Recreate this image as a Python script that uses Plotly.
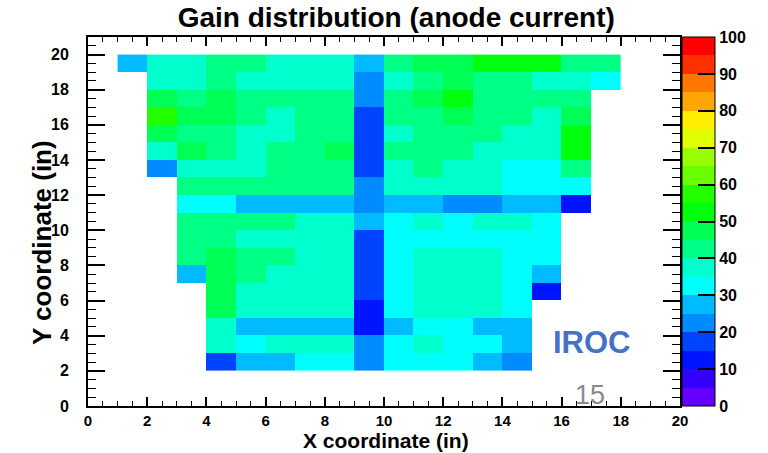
import plotly.graph_objects as go

# Cell centres (inches)
x_centers = [c + 0.5 for c in range(1, 18)]          # columns 1..17
y_centers = [r + 0.5 for r in range(2, 20)]          # rows 2..19

N = None
# Gain values, rows listed from y=19 (top) down to y=2 (bottom), columns x=1..17
gain_rows_top_down = [
    [27, 37, 37, 43, 43, 37, 37, 37, 27, 43, 47, 47, 52, 52, 52, 43, 43],   # y=19
    [N, 37, 37, 43, 37, 37, 37, 37, 22, 37, 43, 47, 43, 43, 37, 37, 32],    # y=18
    [N, 47, 43, 47, 43, 43, 43, 43, 22, 43, 47, 52, 43, 43, 43, 43, N],     # y=17
    [N, 57, 47, 47, 43, 37, 43, 43, 17, 43, 43, 47, 43, 43, 37, 47, N],     # y=16
    [N, 47, 43, 43, 37, 37, 43, 43, 17, 37, 43, 43, 43, 37, 37, 52, N],     # y=15
    [N, 37, 47, 43, 37, 43, 43, 47, 17, 43, 43, 43, 37, 37, 37, 52, N],     # y=14
    [N, 22, 37, 37, 37, 43, 43, 43, 17, 37, 43, 37, 37, 32, 32, 43, N],     # y=13
    [N, N, 43, 43, 43, 43, 43, 43, 22, 37, 37, 37, 37, 32, 32, 32, N],      # y=12
    [N, N, 32, 32, 27, 27, 27, 27, 22, 27, 27, 22, 22, 27, 27, 12, N],      # y=11
    [N, N, 43, 43, 43, 43, 37, 37, 27, 32, 37, 32, 37, 37, 32, N, N],       # y=10
    [N, N, 43, 43, 37, 37, 37, 37, 17, 32, 32, 32, 32, 32, 32, N, N],       # y=9
    [N, N, 43, 47, 43, 43, 37, 37, 17, 32, 37, 37, 37, 32, 32, N, N],       # y=8
    [N, N, 27, 47, 43, 37, 37, 37, 17, 32, 37, 37, 37, 32, 27, N, N],       # y=7
    [N, N, N, 47, 37, 37, 37, 37, 17, 32, 37, 37, 37, 32, 12, N, N],        # y=6
    [N, N, N, 47, 37, 37, 37, 37, 12, 32, 37, 37, 37, 32, N, N, N],         # y=5
    [N, N, N, 37, 27, 27, 27, 27, 12, 27, 32, 32, 27, 27, N, N, N],         # y=4
    [N, N, N, 37, 32, 37, 37, 37, 22, 32, 37, 32, 32, 27, N, N, N],         # y=3
    [N, N, N, 17, 27, 27, 32, 32, 22, 32, 32, 32, 27, 22, N, N, N],         # y=2
]
z_values = list(reversed(gain_rows_top_down))  # bottom-up to match y_centers

x_ticks = list(range(0, 21, 2))
y_ticks = list(range(0, 21, 2))
cbar_ticks = list(range(0, 101, 10))

# ROOT "pretty palette" (palette 1) sampled for 20 contour levels
n_levels = 20
n_colors = 50
colorscale = []
for k in range(n_levels):
    idx = int((k + 0.99) * n_colors / n_levels)
    hue = 280 - (idx + 1) * (280 / n_colors)
    col = f"hsl({hue:.1f},100%,50%)"
    colorscale.append([k / n_levels, col])
    colorscale.append([(k + 1) / n_levels, col])

FONT = "Liberation Sans"

fig = go.Figure()
fig.add_trace(go.Heatmap(
    x=x_centers, y=y_centers, z=z_values,
    zmin=0, zmax=100, colorscale=colorscale,
    hoverongaps=False,
    colorbar=dict(
        x=1.004, xanchor="left", xpad=0, ypad=0,
        y=0.5, yanchor="middle", len=1, lenmode="fraction",
        thickness=33, outlinecolor="black", outlinewidth=1,
        tickmode="array", tickvals=cbar_ticks,
        ticks="inside", ticklen=17, tickwidth=2, tickcolor="black",
        tickfont=dict(family=FONT, size=16, color="black", weight="bold"),
    ),
))

axis_common = dict(
    showgrid=False, zeroline=False, automargin=False,
    showline=True, linecolor="black", linewidth=2, mirror="ticks",
    ticks="inside", tickcolor="black", tickwidth=1.5,
)

fig.update_xaxes(range=[0, 20], tickmode="array", tickvals=x_ticks, ticklen=9,
                 minor=dict(dtick=0.5, tick0=0, ticks="inside", ticklen=5,
                            tickcolor="black", tickwidth=1),
                 tickfont=dict(family=FONT, size=15, color="black", weight="bold"),
                 ticklabelstandoff=0, **axis_common)
fig.update_yaxes(range=[0, 21], tickmode="array", tickvals=y_ticks, ticklen=17,
                 minor=dict(dtick=0.5, tick0=0, ticks="inside", ticklen=8,
                            tickcolor="black", tickwidth=1),
                 tickfont=dict(family=FONT, size=16, color="black", weight="bold"),
                 ticklabelstandoff=14, **axis_common)

fig.update_layout(
    width=768, height=453,
    margin=dict(l=88, r=88, t=37, b=47, autoexpand=False),
    paper_bgcolor="white", plot_bgcolor="white",
    title=dict(text="Gain distribution (anode current)", xref="container", x=0.516,
               yref="container", y=0.962, xanchor="center", yanchor="middle",
               font=dict(family=FONT, size=28, color="black", weight="bold")),
    showlegend=False,
    annotations=[
        dict(text="X coordinate (in)", xref="paper", yref="paper", x=0.503, y=-0.1274,
             showarrow=False, xanchor="center", yanchor="bottom", borderpad=0,
             font=dict(family=FONT, size=21, color="black", weight="bold")),
        dict(text="Y coordinate (in)", xref="paper", yref="paper", x=-0.078, y=0.444,
             showarrow=False, xanchor="center", yanchor="middle", textangle=-90,
             font=dict(family=FONT, size=26, color="black", weight="bold")),
        dict(text="IROC", xref="paper", yref="paper", x=0.851, y=0.171,
             showarrow=False, xanchor="center", yanchor="middle",
             font=dict(family=FONT, size=31, color="#4472C4", weight="bold")),
        dict(text="15", xref="paper", yref="paper", x=0.848, y=0.030,
             showarrow=False, xanchor="center", yanchor="middle",
             font=dict(family=FONT, size=27, color="#8a8a8a")),
    ],
)

fig.write_html("out.html", config={"displayModeBar": False},
               post_script="document.body.style.margin='0';document.body.style.overflow='hidden';")
